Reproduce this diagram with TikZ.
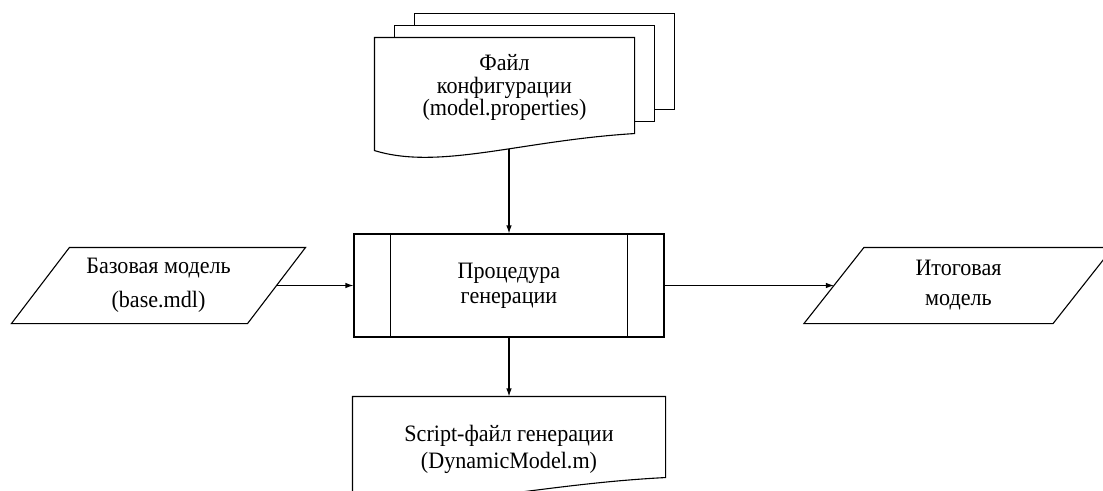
\documentclass[tikz,border=0pt]{standalone}
\usepackage{fontspec}
\setmainfont{Liberation Serif}[FakeStretch=0.94]
\usepackage{tikz}
\usetikzlibrary{calc}
\usetikzlibrary{arrows, arrows.meta, positioning, shapes, backgrounds}

\begin{document}
\begin{tikzpicture}[x=1pt, y=-1pt, line width=1.1pt]

% Define block styles
\tikzstyle{block} = [rectangle, draw, align=center, minimum width=310pt,
minimum height=103pt, font=\fontsize{23.5}{25}\selectfont]
\tikzstyle{io} = [rectangle, align=center, minimum height=75pt,
font=\fontsize{23.5}{25}\selectfont]
\tikzstyle{doc} = [rectangle, align=center, minimum width=259pt,
minimum height=99pt, font=\fontsize{23.5}{25}\selectfont]
\tikzstyle{sheet} = [draw, fill=white, line width=1.1pt]
\tikzstyle{line} = [draw, -{Latex[length=8pt, width=5.5pt]}]

\useasboundingbox (0,0) rectangle (1103,490);
\clip (0,0) rectangle (1103,490);

% Nodes
\node [block] (proc) at (509,285.5) {Процедура\\генерации};
\node [io, minimum width=235pt, node distance=350.5pt, left of=proc] (base) {Базовая модель\\[9pt](base.mdl)};
\node [io, minimum width=248pt, node distance=449.5pt, right of=proc] (result) {Итоговая\\[5pt]модель};
\node [doc, node distance=198pt, above of=proc, xshift=-4.5pt] (conf) {Файл\\[-2.5pt]конфигурации\\[-2.5pt](model.properties)};
\node [doc, minimum width=312pt, minimum height=104pt, node distance=163.5pt, below of=proc] (script) {Script-файл генерации\\[2pt](DynamicModel.m)};

% Outlines
\begin{scope}[on background layer, line width=1.1pt]
\draw [sheet] ($(conf.north west)+(40,-24)$) rectangle ($(conf.south east)+(40,-28)$);
\draw [sheet] ($(conf.north west)+(20,-12)$) rectangle ($(conf.south east)+(20,-16)$);
\draw [sheet] ($(conf.south west)+(0,13)$) -- (conf.north west) -- (conf.north east)
  -- ($(conf.south east)+(0,-4)$) .. controls +(-114,7) and +(65,20) .. ($(conf.south west)+(0,13)$) -- cycle;
\end{scope}
\draw ($(script.south west)+(0,-7)$) -- (script.north west) -- (script.north east)
  -- ($(script.south east)+(0,-24)$) .. controls +(-137,7) and +(78,20) .. ($(script.south west)+(0,-7)$);
\draw ($(base.north west)+(29,0)$) -- ($(base.north east)+(29,0)$)
  -- ($(base.south east)+(-29,0)$) -- ($(base.south west)+(-29,0)$) -- cycle;
\draw ($(result.north west)+(30,0)$) -- ($(result.north east)+(30,0)$)
  -- ($(result.south east)+(-30,0)$) -- ($(result.south west)+(-30,0)$) -- cycle;
\draw ($(proc.north west)+(37,0)$) -- ($(proc.south west)+(37,0)$);
\draw ($(proc.north east)+(-37,0)$) -- ($(proc.south east)+(-37,0)$);

% Paths
\coordinate (confout) at ($(conf.south)+(4.5,11)$);
\path [line] (confout) -- (proc);
\path [line] (base) -- (proc);
\path [line] (proc) -- (result);
\path [line] (proc) -- (script);
\end{tikzpicture}
\end{document}
